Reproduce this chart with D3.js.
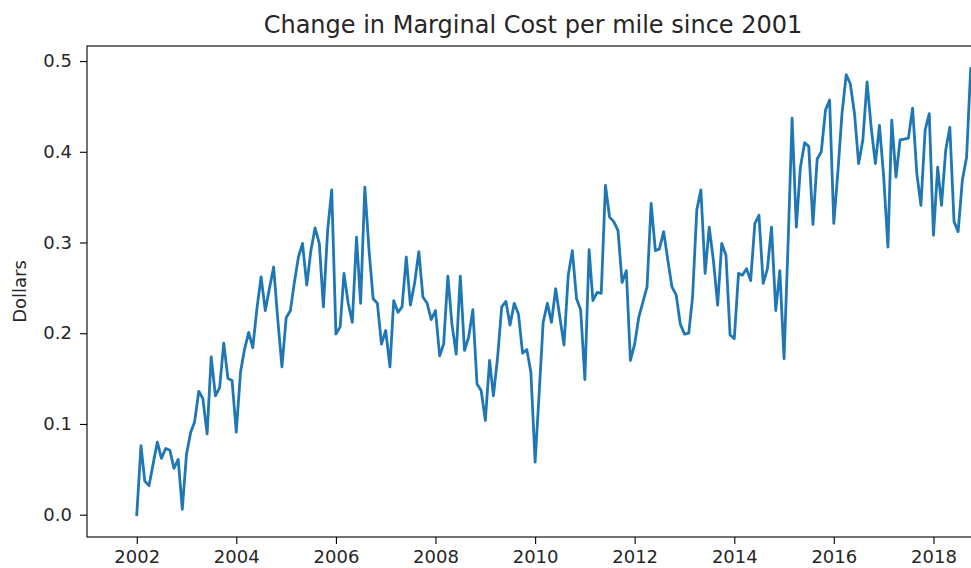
<!DOCTYPE html>
<html>
<head>
<meta charset="utf-8">
<script src="https://cdn.jsdelivr.net/npm/d3@7"></script>
<style>
  body { margin: 0; background: #fff; }
  text { font-family: "DejaVu Sans", sans-serif; fill: #262626; }
</style>
</head>
<body>
<script>
var title = "Change in Marginal Cost per mile since 2001"
var yLabel = "Dollars"
var firstMonth = "2002-01"   // monthly series starts here
var axisStart = "2001-01"    // pandas keeps the (empty) 2001 rows on the axis
var axisEnd = "2018-12"

// change in marginal cost per mile, one value per month from Jan 2002
var costChange = [
  0.000, 0.076, 0.037, 0.032, 0.056, 0.080, 0.062, 0.073, 0.071, 0.051, 0.061, 0.006,
  0.067, 0.091, 0.102, 0.136, 0.128, 0.089, 0.174, 0.131, 0.140, 0.189, 0.150, 0.148,
  0.091, 0.157, 0.182, 0.201, 0.184, 0.228, 0.262, 0.225, 0.250, 0.273, 0.214, 0.163,
  0.217, 0.225, 0.255, 0.284, 0.299, 0.253, 0.291, 0.316, 0.299, 0.229, 0.313, 0.358,
  0.199, 0.207, 0.266, 0.233, 0.212, 0.306, 0.233, 0.361, 0.291, 0.238, 0.233, 0.188,
  0.203, 0.163, 0.236, 0.223, 0.229, 0.284, 0.231, 0.255, 0.290, 0.240, 0.233, 0.215,
  0.225, 0.175, 0.188, 0.263, 0.210, 0.177, 0.263, 0.181, 0.196, 0.226, 0.144, 0.137,
  0.104, 0.170, 0.131, 0.174, 0.229, 0.235, 0.209, 0.233, 0.221, 0.178, 0.182, 0.157,
  0.058, 0.137, 0.212, 0.233, 0.212, 0.249, 0.218, 0.187, 0.264, 0.291, 0.238, 0.226,
  0.149, 0.292, 0.236, 0.245, 0.244, 0.363, 0.328, 0.323, 0.313, 0.256, 0.269, 0.170,
  0.188, 0.218, 0.234, 0.251, 0.343, 0.291, 0.293, 0.312, 0.280, 0.251, 0.242, 0.210,
  0.199, 0.200, 0.240, 0.336, 0.358, 0.266, 0.317, 0.280, 0.231, 0.299, 0.286, 0.198,
  0.194, 0.266, 0.264, 0.271, 0.258, 0.321, 0.330, 0.255, 0.271, 0.317, 0.225, 0.269,
  0.172, 0.305, 0.437, 0.317, 0.383, 0.410, 0.406, 0.320, 0.392, 0.400, 0.446, 0.457,
  0.321, 0.380, 0.442, 0.485, 0.475, 0.442, 0.387, 0.413, 0.477, 0.427, 0.387, 0.429,
  0.372, 0.295, 0.435, 0.372, 0.413, 0.414, 0.415, 0.448, 0.376, 0.341, 0.424, 0.442,
  0.308, 0.383, 0.341, 0.402, 0.427, 0.323, 0.312, 0.369, 0.394, 0.492, 0.470, 0.455
]

var yTicks = [0, 0.1, 0.2, 0.3, 0.4, 0.5]
var xTickYears = [2002, 2004, 2006, 2008, 2010, 2012, 2014, 2016, 2018]

var w = 971
var h = 568
var margin = {left: 87, right: 979, top: 46, bottom: 537}

var parseMonth = d3.timeParse("%Y-%m")
var start = parseMonth(firstMonth)
var data = costChange.map(function(v, i) {
  return {date: d3.timeMonth.offset(start, i), value: v}
})

var svg = d3.select("body").append("svg")
  .attr("width", w)
  .attr("height", h)

var x = d3.scaleTime()
  .domain([parseMonth(axisStart), parseMonth(axisEnd)])
  .range([margin.left, margin.right])

// matplotlib style 5% padding on y
var ext = d3.extent(costChange)
var pad = (ext[1] - ext[0]) * 0.05
var y = d3.scaleLinear()
  .domain([ext[0] - pad, ext[1] + pad])
  .range([margin.bottom, margin.top])

var line = d3.line()
  .x(function(d) { return x(d.date) })
  .y(function(d) { return y(d.value) })

svg.append("path")
  .datum(data)
  .attr("fill", "none")
  .attr("stroke", "#1f77b4")
  .attr("stroke-width", 2.8)
  .attr("stroke-linejoin", "round")
  .attr("stroke-linecap", "square")
  .attr("d", line)

var xAxis = d3.axisBottom(x)
  .tickValues(xTickYears.map(function(yr) { return new Date(yr, 0, 1) }))
  .tickFormat(d3.timeFormat("%Y"))
  .tickSize(7)
  .tickPadding(6)

var yAxis = d3.axisLeft(y)
  .tickValues(yTicks)
  .tickFormat(d3.format(".1f"))
  .tickSize(7)
  .tickPadding(8)

var gx = svg.append("g")
  .attr("transform", "translate(0," + margin.bottom + ")")
  .call(xAxis)
var gy = svg.append("g")
  .attr("transform", "translate(" + margin.left + ",0)")
  .call(yAxis)

;[gx, gy].forEach(function(g) {
  g.select(".domain").remove()
  g.selectAll(".tick line").attr("stroke", "#000").attr("stroke-width", 1.1)
  g.selectAll(".tick text")
    .attr("font-family", "DejaVu Sans")
    .attr("font-size", 18)
    .attr("fill", "#262626")
})

// spines (right one falls just outside the picture)
svg.append("rect")
  .attr("x", margin.left)
  .attr("y", margin.top)
  .attr("width", margin.right - margin.left)
  .attr("height", margin.bottom - margin.top)
  .attr("fill", "none")
  .attr("stroke", "#000")
  .attr("stroke-width", 1.1)

svg.append("text")
  .attr("x", (margin.left + margin.right) / 2)
  .attr("y", 33)
  .attr("text-anchor", "middle")
  .attr("font-size", 24)
  .text(title)

svg.append("text")
  .attr("transform", "translate(26," + (margin.top + margin.bottom) / 2 + ") rotate(-90)")
  .attr("text-anchor", "middle")
  .attr("font-size", 18)
  .text(yLabel)
</script>
</body>
</html>
